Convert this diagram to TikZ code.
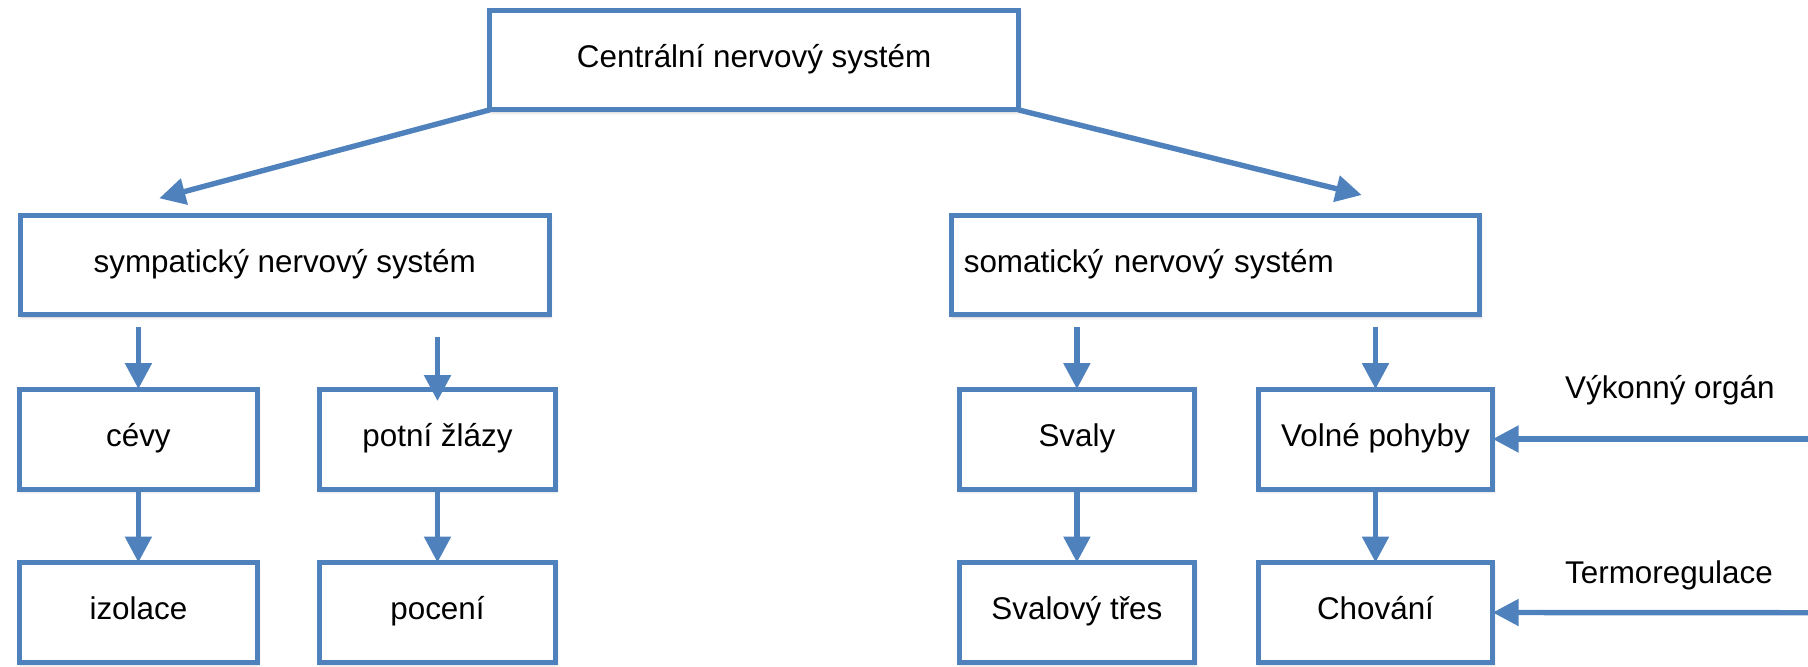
\documentclass[tikz,border=0pt]{standalone}
\usepackage{fontspec}
\setmainfont{Liberation Sans}
\usetikzlibrary{arrows.meta,shadows.blur}
\definecolor{boxblue}{HTML}{4F81BD}
\begin{document}
\begin{tikzpicture}[x=0.5pt,y=-0.5pt,
  box/.style={draw=boxblue, line width=2.5pt, fill=white, rectangle,
    inner sep=0pt, outer sep=0pt, minimum height=50pt,
    font=\fontsize{15.7}{18}\selectfont, text height=0.72em, text depth=0pt,
    blur shadow={shadow xshift=0.4pt, shadow yshift=-1.2pt, shadow opacity=22, shadow blur radius=1.6pt, shadow blur steps=6}},
  wide/.style={box, minimum width=264.5pt, minimum height=49.6pt},
  small/.style={box, minimum width=118.2pt},
  arr/.style={draw=boxblue, line width=2.7pt, -{Triangle[length=13pt,width=13pt]}},
  lbl/.style={inner sep=0pt, anchor=west, font=\fontsize{15.7}{18}\selectfont, text height=0.72em, text depth=0pt}
]
\useasboundingbox (0,0) rectangle (1808,666);

\node[wide] (top) at (754.1,60.3) {Centrální nervový systém};
\node[wide] (symp) at (284.75,265) {sympatický nervový systém};
\node[wide, text width=251.8pt, inner xsep=6.1pt, align=left, minimum width=264pt] (soma) at (1215.6,265.3) {somatický nervový systém};

\node[small, minimum width=118.8pt] (cevy) at (138.4,439) {cévy};
\node[small] (potni) at (437.5,439) {potní žlázy};
\node[small, minimum width=117.8pt] (svaly) at (1076.9,439) {Svaly};
\node[small, minimum width=117.2pt] (volne) at (1375.5,439) {Volné pohyby};

\node[small, minimum width=118.8pt] (izolace) at (138.4,612.5) {izolace};
\node[small] (poceni) at (437.5,612.5) {pocení};
\node[small, minimum width=117.8pt] (tres) at (1076.9,612.5) {Svalový třes};
\node[small, minimum width=117.2pt] (chovani) at (1375.5,612.5) {Chování};

\node[lbl] (vykon) at (1564.7,391.3) {Výkonný orgán};
\node[lbl] (termo) at (1564.7,576) {Termoregulace};

\coordinate (tipL) at (159.3,198.3);
\coordinate (tipR) at (1361.7,195);
\coordinate (c1) at (138.4,327);
\coordinate (c2) at (437.5,337);
\coordinate (c3) at (1076.9,327);
\coordinate (c4) at (1375.5,327);
\coordinate (e1) at (1808,439);
\coordinate (e2) at (1808,612.7);

\draw[arr] (top.south west) -- (tipL);
\draw[arr] (top.south east) -- (tipR);
\draw[arr] (c1) -- (cevy.north);
\draw[arr, shorten >=-6pt] (c2) -- (potni.north);
\draw[arr] (c3) -- (svaly.north);
\draw[arr] (c4) -- (volne.north);
\draw[arr] (cevy.south) -- (izolace.north);
\draw[arr] (potni.south) -- (poceni.north);
\draw[arr] (svaly.south) -- (tres.north);
\draw[arr] (volne.south) -- (chovani.north);
\draw[arr] (e1) -- (volne.east);
\draw[arr] (e2) -- (chovani.east);
\end{tikzpicture}
\end{document}
